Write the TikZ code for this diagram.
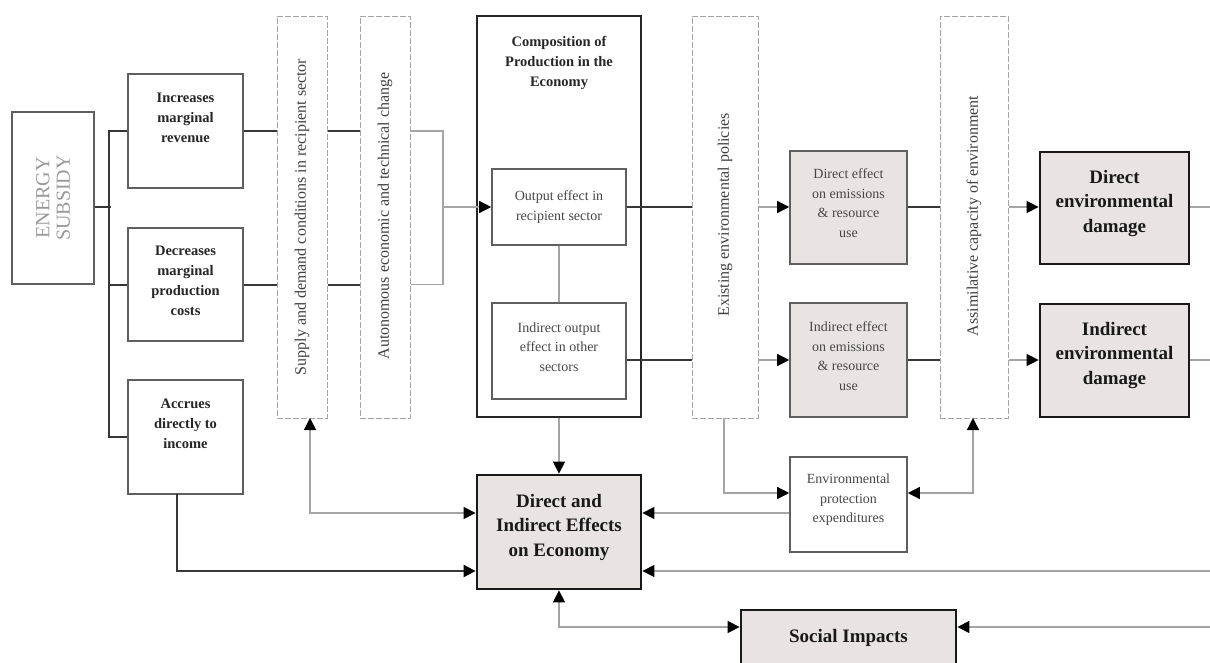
\documentclass[tikz,border=0pt]{standalone}
\usepackage{fontspec}
\setmainfont{Liberation Serif}
\usetikzlibrary{arrows.meta}
\definecolor{boxfill}{RGB}{232,228,228}
\definecolor{darkln}{RGB}{55,55,55}
\definecolor{greyln}{RGB}{165,165,165}
\definecolor{boxline}{RGB}{95,95,95}
\tikzset{
  box/.style={draw=boxline, line width=1.6pt, fill=white, inner sep=0pt},
  greybox/.style={box, fill=boxfill},
  bigbox/.style={draw=black!90, line width=2.8pt, fill=boxfill, inner sep=0pt},
  column/.style={draw=greyln, line width=1pt, dash pattern=on 6pt off 2pt, inner sep=0pt},
  compbox/.style={draw=black!85, line width=2.6pt, inner sep=0pt},
  lblb/.style={align=center, inner sep=0pt, text=black!85, font=\fontsize{14.5}{20}\selectfont\bfseries},
  lblr/.style={align=center, inner sep=0pt, text=black!72, font=\fontsize{14}{19.5}\selectfont},
  lblbig/.style={align=center, inner sep=0pt, text=black!90, font=\fontsize{19}{24.5}\selectfont\bfseries},
  vtext/.style={rotate=90, inner sep=0pt, text=black!75, font=\fontsize{16}{18}\selectfont},
  ln/.style={draw=darkln, line width=2pt},
  gl/.style={draw=greyln, line width=1.4pt},
  tip/.style={-{Triangle[length=12pt,width=12pt,color=black]}},
  tipb/.style={{Triangle[length=12pt,width=12pt,color=black]}-{Triangle[length=12pt,width=12pt,color=black]}},
}
\begin{document}
\begin{tikzpicture}[x=1pt,y=-1pt]
\useasboundingbox (0,0) rectangle (1210,662);
\clip (0,0) rectangle (1210,662);
\fill[white] (0,0) rectangle (1210,662);

% boxes
\node[box, minimum width=82pt, minimum height=172pt] (sub) at (53,198) {};
\node[rotate=90, align=center, inner sep=0pt, text=black!40, font=\fontsize{20}{20.5}\selectfont] (subt) at (53,198) {ENERGY\\SUBSIDY};

\node[box, minimum width=115pt, minimum height=114pt] (inc) at (185.5,131) {};
\node[lblb] (inct) at (185.5,118) {Increases\\marginal\\revenue};
\node[box, minimum width=115pt, minimum height=113pt] (dec) at (185.5,284.5) {};
\node[lblb] (dect) at (185.5,281) {Decreases\\marginal\\production\\costs};
\node[box, minimum width=115pt, minimum height=114pt] (acc) at (185.5,437) {};
\node[lblb] (acct) at (185.5,424) {Accrues\\directly to\\income};

\node[column, minimum width=50pt, minimum height=402pt] (sup) at (302,217) {};
\node[vtext] (supt) at (302,217) {Supply and demand conditions in recipient sector};
\node[column, minimum width=50pt, minimum height=402pt] (aut) at (385,217) {};
\node[vtext] (autt) at (385,216) {Autonomous economic and technical change};

\node[compbox, minimum width=164pt, minimum height=401pt] (comp) at (559,216.5) {};
\node[lblb] (compt) at (559,63) {Composition of\\Production in the\\Economy};
\node[box, minimum width=134pt, minimum height=76pt] (out) at (559,207) {};
\node[lblr] (outt) at (559,207) {Output effect in\\recipient sector};
\node[box, minimum width=134pt, minimum height=96pt] (ind) at (559,351) {};
\node[lblr] (indt) at (559,347) {Indirect output\\effect in other\\sectors};

\node[column, minimum width=66pt, minimum height=402pt] (exi) at (725,217) {};
\node[vtext] (exit) at (725,215) {Existing environmental policies};

\node[greybox, minimum width=117pt, minimum height=113pt] (deff) at (848.5,207.5) {};
\node[lblr] (defft) at (848.5,203) {Direct effect\\on emissions\\\& resource\\use};
\node[greybox, minimum width=117pt, minimum height=114pt] (ieff) at (848.5,360) {};
\node[lblr] (iefft) at (848.5,356) {Indirect effect\\on emissions\\\& resource\\use};

\node[column, minimum width=68pt, minimum height=402pt] (ass) at (974,217) {};
\node[vtext] (asst) at (974,216) {Assimilative capacity of environment};

\node[bigbox, minimum width=149pt, minimum height=112pt] (denv) at (1114.5,208) {};
\node[lblbig] (denvt) at (1114.5,203) {Direct\\environmental\\damage};
\node[bigbox, minimum width=149pt, minimum height=113pt] (ienv) at (1114.5,360.5) {};
\node[lblbig] (ienvt) at (1114.5,355) {Indirect\\environmental\\damage};

\node[bigbox, minimum width=164pt, minimum height=114pt] (die) at (559,532) {};
\node[lblbig] (diet) at (559,527) {Direct and\\Indirect Effects\\on Economy};

\node[box, minimum width=117pt, minimum height=95pt] (env) at (848.5,504.5) {};
\node[lblr] (envt) at (848.5,500) {Environmental\\protection\\expenditures};

\node[bigbox, minimum width=215pt, minimum height=90pt] (soc) at (848.5,655) {};
\node[lblbig] (soct) at (848.5,638) {Social Impacts};

% free ends
\coordinate (kink) at (443,207);
\coordinate (edge1) at (1210,207);
\coordinate (edge2) at (1210,360);
\coordinate (edge3) at (1210,571);
\coordinate (edge4) at (1210,627);
\coordinate (supin) at (310,418);
\coordinate (accout) at (177,494);
\coordinate (exiout) at (724,418);
\coordinate (assin) at (973,418);

% left tree
\draw[ln] (sub.east |- out.west) -- ++(16,0);
\draw[ln] (inc.west) -- ++(-18,0) |- (acc.west);
\draw[ln] (dec.west) -- ++(-18,0);

% rows to columns
\draw[ln] (inc.east) -- (inc.east -| sup.west);
\draw[ln] (inc.east -| sup.east) -- (inc.east -| aut.west);
\draw[ln] (dec.east) -- (dec.east -| sup.west);
\draw[ln] (dec.east -| sup.east) -- (dec.east -| aut.west);
\draw[gl] (inc.east -| aut.east) -| (kink) |- (dec.east -| aut.east);
\draw[gl, tip] (kink) -- (out.west);

% composition
\draw[gl] (out.south) -- (ind.north);
\draw[ln] (out.east) -- (out.east -| exi.west);
\draw[ln] (ind.east |- ieff.west) -- (ieff.west -| exi.west);
\draw[gl, tip] (out.east -| exi.east) -- (out.east -| deff.west);
\draw[gl, tip] (ieff.west -| exi.east) -- (ieff.west);

\draw[ln] (out.east -| deff.east) -- (out.east -| ass.west);
\draw[ln] (ieff.east) -- (ieff.east -| ass.west);
\draw[gl, tip] (out.east -| ass.east) -- (out.east -| denv.west);
\draw[gl, tip] (ieff.east -| ass.east) -- (ieff.east -| ienv.west);
\draw[gl] (out.east -| denv.east) -- (edge1);
\draw[gl] (ieff.east -| ienv.east) -- (edge2);

% economy links
\draw[gl, tip] (comp.south) -- (die.north);
\draw[gl, tipb] (supin) |- ([yshift=19pt]die.west);
\draw[ln, tip] (accout) |- ([yshift=-39pt]die.west);
\draw[gl, tip] ([yshift=-8.5pt]env.west) -- ([yshift=19pt]die.east);
\draw[gl, tip] (edge3) -- ([yshift=-39pt]die.east);
\draw[gl, tip] (exiout) |- ([yshift=11.5pt]env.west);
\draw[gl, tipb] (assin) |- ([yshift=11.5pt]env.east);
\draw[gl, tipb] (die.south) |- (soc.west |- 0,627);
\draw[gl, tip] (edge4) -- (soc.east |- 0,627);
\end{tikzpicture}
\end{document}
